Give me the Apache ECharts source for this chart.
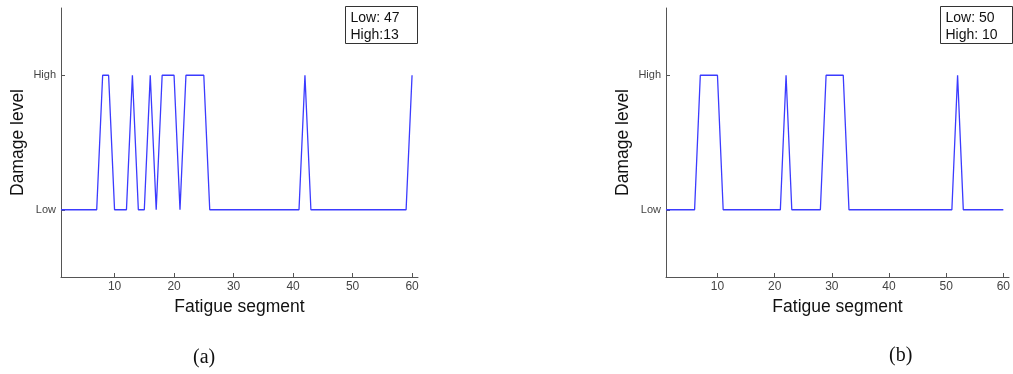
<!DOCTYPE html>
<html>
<head>
<meta charset="utf-8">
<script src="https://cdn.jsdelivr.net/npm/echarts@6/dist/echarts.min.js"></script>
<style>
  html, body { margin: 0; padding: 0; background: #fff; }
  #chart { width: 1013px; height: 374px; }
</style>
</head>
<body>
<div id="chart"></div>
<script>
// 疲劳段 1..60
const segments = Array.from({ length: 60 }, (_, i) => i + 1)
// 损伤等级 0 = Low, 1 = High
const levelA = [
  0, 0, 0, 0, 0, 0, 0, 1, 1, 0,
  0, 0, 1, 0, 0, 1, 0, 1, 1, 1,
  0, 1, 1, 1, 1, 0, 0, 0, 0, 0,
  0, 0, 0, 0, 0, 0, 0, 0, 0, 0,
  0, 1, 0, 0, 0, 0, 0, 0, 0, 0,
  0, 0, 0, 0, 0, 0, 0, 0, 0, 1
]
const levelB = [
  0, 0, 0, 0, 0, 0, 1, 1, 1, 1,
  0, 0, 0, 0, 0, 0, 0, 0, 0, 0,
  0, 1, 0, 0, 0, 0, 0, 0, 1, 1,
  1, 1, 0, 0, 0, 0, 0, 0, 0, 0,
  0, 0, 0, 0, 0, 0, 0, 0, 0, 0,
  0, 1, 0, 0, 0, 0, 0, 0, 0, 0
]
const xTicks = [10, 20, 30, 40, 50, 60]
const yTicks = [0, 1]
const yTickLabels = ['Low', 'High']
const captions = ['(a)', '(b)']

const font = 'Liberation Sans, Arial, sans-serif'
const axisColor = '#555'
const lineColor = '#3b3bff'

const count = (arr, v) => arr.filter(d => d === v).length
const boxTextA = 'Low: ' + count(levelA, 0) + '\nHigh:' + count(levelA, 1)
const boxTextB = 'Low: ' + count(levelB, 0) + '\nHigh: ' + count(levelB, 1)

function makeX(gridIndex) {
  return {
    gridIndex,
    type: 'value',
    min: 1,
    max: 61,
    name: 'Fatigue segment',
    nameLocation: 'middle',
    nameGap: 19,
    nameTextStyle: { fontFamily: font, fontSize: 17.5, color: '#111' },
    axisLine: { onZero: false, lineStyle: { color: axisColor, width: 1 } },
    axisTick: { inside: true, length: 4, customValues: xTicks, lineStyle: { color: axisColor } },
    axisLabel: { customValues: xTicks, fontFamily: font, fontSize: 12, color: '#444', margin: 4 },
    splitLine: { show: false }
  }
}

function makeY(gridIndex) {
  return {
    gridIndex,
    type: 'value',
    min: -0.5,
    max: 1.5,
    name: 'Damage level',
    nameLocation: 'middle',
    nameRotate: 90,
    nameGap: 34,
    nameTextStyle: { fontFamily: font, fontSize: 17.5, color: '#111' },
    axisLine: { show: true, onZero: false, lineStyle: { color: axisColor, width: 1 } },
    axisTick: { show: true, inside: true, length: 4, customValues: yTicks, lineStyle: { color: axisColor } },
    axisLabel: {
      customValues: yTicks,
      fontFamily: font,
      fontSize: 11,
      color: '#444',
      margin: 5,
      formatter: v => yTickLabels[yTicks.indexOf(v)] || ''
    },
    splitLine: { show: false }
  }
}

function legendBox(left, text) {
  return {
    type: 'group',
    left,
    top: 6,
    children: [
      { type: 'rect', shape: { x: 0, y: 0, width: 72, height: 37 }, style: { fill: '#fff', stroke: '#333', lineWidth: 1 } },
      { type: 'text', x: 5, y: 3, style: { text: text, font: '14px ' + font, fill: '#111', lineHeight: 17 } }
    ]
  }
}

const chart = echarts.init(document.getElementById('chart'))
chart.setOption({
  animation: false,
  title: [
    { text: captions[0], left: 188, top: 343, textStyle: { fontFamily: 'Liberation Serif, Times New Roman, serif', fontSize: 20, fontWeight: 'normal', color: '#111' } },
    { text: captions[1], left: 884, top: 341, textStyle: { fontFamily: 'Liberation Serif, Times New Roman, serif', fontSize: 20, fontWeight: 'normal', color: '#111' } }
  ],
  grid: [
    { left: 61, right: 595, top: 8, bottom: 97 },
    { left: 666, right: 1, top: 8, bottom: 97 }
  ],
  xAxis: [makeX(0), makeX(1)],
  yAxis: [makeY(0), makeY(1)],
  graphic: [legendBox(345, boxTextA), legendBox(940, boxTextB)],
  series: [
    {
      type: 'line',
      xAxisIndex: 0,
      yAxisIndex: 0,
      showSymbol: false,
      lineStyle: { color: lineColor, width: 1.3 },
      data: segments.map((s, i) => [s, levelA[i]])
    },
    {
      type: 'line',
      xAxisIndex: 1,
      yAxisIndex: 1,
      showSymbol: false,
      lineStyle: { color: lineColor, width: 1.3 },
      data: segments.map((s, i) => [s, levelB[i]])
    }
  ]
})
</script>
</body>
</html>
